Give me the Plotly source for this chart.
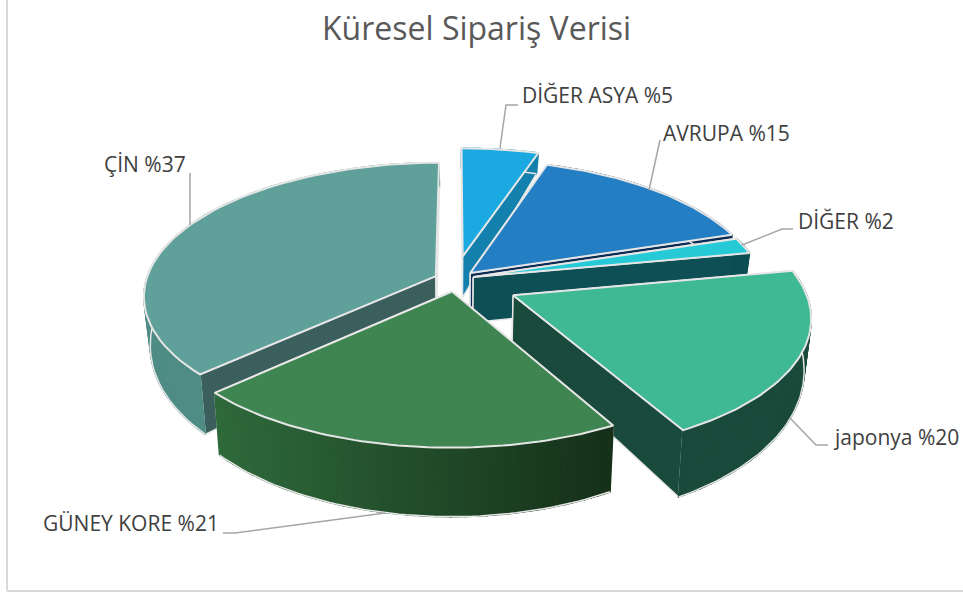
import numpy as np
import plotly.graph_objects as go

categories = ["DİĞER ASYA", "AVRUPA", "DİĞER", "japonya", "GÜNEY KORE", "ÇİN"]
values = [5, 15, 2, 20, 21, 37]
title_text = "Küresel Sipariş Verisi"

pull = [0.22, 0.065, 0.065, 0.20, 0.065, 0.095]
nudge = [(-7, 2), (-3, -3), (-5, -3), (0, 2), (-5, 1), (1, -1)]
top_colors = ["#1AA9E0", "#247EC4", "#25CAD6", "#3FB894", "#3E8551", "#5FA09A"]
radial_colors = ["#1380AE", "#0B2C55", "#0E4F55", "#1A4A3B", "#17301A", "#3A5F5C"]
outer_left = ["#1380AE", "#0B2C55", "#0E4F55", "#1A4A3B", "#2F6A3B", "#4F8C86"]
outer_right = ["#1380AE", "#0B2C55", "#0E4F55", "#1A4A3B", "#16301A", "#4F8C86"]
edge = "#E6E6E6"
draw_order = [0, 1, 2, 5, 3, 4]

CX, CY, RX, RY, K, H, TAPER, SHRINK = 460, 282, 290, 131, 0.144, 46, 0.47, 0.02


def project(X, Z, h=0.0):
    s = 1 / (1 + K * Z)
    return CX + RX * X * s * (1 - SHRINK * h), CY - RY * Z * s + h * H * (1 - TAPER * Z)


def rgb(c):
    return np.array([int(c[i:i + 2], 16) for i in (1, 3, 5)], float)


def mix(a, b, t):
    v = rgb(a) * (1 - t) + rgb(b) * t
    return "rgb(%d,%d,%d)" % tuple(v)


def poly(fig, x, y, fill, line=None, width=1.5):
    fig.add_trace(go.Scatter(x=list(x), y=list(y), mode="lines", fill="toself", fillcolor=fill,
                             line=dict(color=line or fill, width=width), hoverinfo="skip", showlegend=False))


fig = go.Figure()
shares = np.array(values, float) / sum(values)
ends = np.cumsum(shares) * 2 * np.pi
starts = ends - shares * 2 * np.pi

for i in draw_order:
    a, b = starts[i], ends[i]
    mid = (a + b) / 2
    ox, oz = pull[i] * np.sin(mid), pull[i] * np.cos(mid)
    dx, dy = nudge[i]
    th = np.linspace(a, b, 61)
    Xr, Zr = ox + np.sin(th), oz + np.cos(th)

    # radial walls
    for ang in (a, b):
        X = np.array([ox, ox + np.sin(ang)])
        Z = np.array([oz, oz + np.cos(ang)])
        xt, yt = project(X, Z, 0)
        xb, yb = project(X, Z, 1)
        poly(fig, np.array([xt[0], xt[1], xb[1], xb[0], xt[0]]) + dx,
             np.array([yt[0], yt[1], yb[1], yb[0], yt[0]]) + dy, radial_colors[i], edge)

    # outer wall, shaded left to right
    xt, yt = project(Xr, Zr, 0)
    xb, yb = project(Xr, Zr, 1)
    xt, xb, yt, yb = xt + dx, xb + dx, yt + dy, yb + dy
    lo, hi = xt.min(), xt.max()
    for j in range(len(th) - 1):
        t = ((xt[j] + xt[j + 1]) / 2 - lo) / (hi - lo)
        poly(fig, [xt[j], xt[j + 1], xb[j + 1], xb[j], xt[j]], [yt[j], yt[j + 1], yb[j + 1], yb[j], yt[j]],
             mix(outer_left[i], outer_right[i], t))
    fig.add_trace(go.Scatter(x=list(xb), y=list(yb), mode="lines", line=dict(color=edge, width=1.5),
                             hoverinfo="skip", showlegend=False))

    # top face
    ax, ay = project(ox, oz, 0)
    poly(fig, np.r_[ax + dx, xt, ax + dx], np.r_[ay + dy, yt, ay + dy], top_colors[i], edge, 2)

# leader lines
leaders = [
    ([500, 506, 518], [148, 105, 105]),
    ([649, 660], [190, 140]),
    ([742, 782, 793], [245, 229, 229]),
    ([790, 816, 828], [418, 445, 445]),
    ([385, 235, 223], [513, 533, 533]),
    ([190, 190], [225, 173]),
]
for lx, ly in leaders:
    fig.add_trace(go.Scatter(x=lx, y=ly, mode="lines", line=dict(color="#A6A6A6", width=1.5),
                             hoverinfo="skip", showlegend=False))

label_pos = [(520, 95), (661, 133), (796, 221), (831, 437), (41, 523), (102, 164)]
annotations = [
    dict(x=px, y=py, text=f"{c} %{v}", showarrow=False, xanchor="left", yanchor="middle",
         font=dict(family="Open Sans", size=21, color="#404040"))
    for (px, py), c, v in zip(label_pos, categories, values)
]
annotations.append(dict(x=476, y=27, text=title_text, showarrow=False, xanchor="center", yanchor="middle",
                        font=dict(family="Open Sans", size=32, color="#595959")))

fig.update_layout(
    width=963, height=594, margin=dict(l=0, r=0, t=0, b=0),
    paper_bgcolor="white", plot_bgcolor="white", showlegend=False,
    xaxis=dict(range=[0, 963], visible=False, fixedrange=True),
    yaxis=dict(range=[594, 0], visible=False, fixedrange=True),
    annotations=annotations,
    shapes=[
        dict(type="line", x0=7, x1=7, y0=0, y1=591, line=dict(color="#D9D9D9", width=2)),
        dict(type="line", x0=7, x1=963, y0=591, y1=591, line=dict(color="#D9D9D9", width=2)),
    ],
)
fig.write_html("out.html", config={"displayModeBar": False},
               post_script="document.documentElement.style.overflow='hidden';document.body.style.margin='0';")
